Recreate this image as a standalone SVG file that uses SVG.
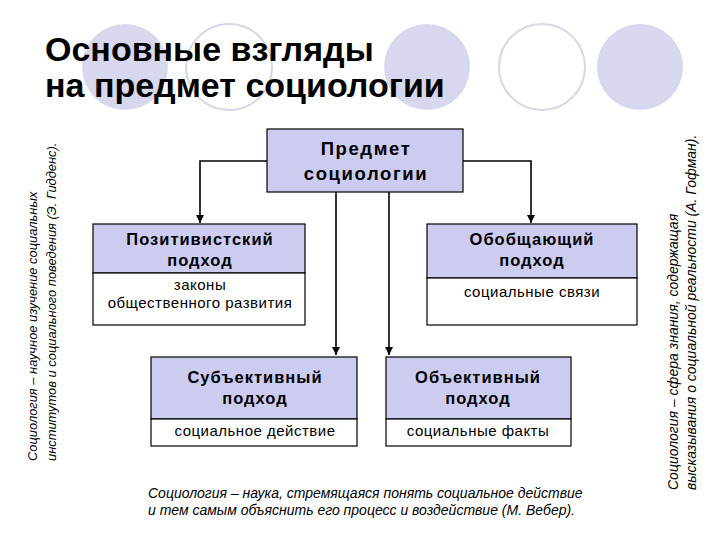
<svg xmlns="http://www.w3.org/2000/svg" width="720" height="540" viewBox="0 0 720 540">
  <style>
    .bgc { fill: #d7d7ee; }
    .bgo { fill: #ffffff; stroke: #d6d6e6; stroke-width: 2; }
    .title { font-family: "Liberation Sans", Arial, sans-serif; font-weight: bold; font-size: 34px; fill: #000; }
    .hdr { fill: #ccccf0; stroke: #000; stroke-width: 1.2; }
    .body { fill: #ffffff; stroke: #000; stroke-width: 1.2; }
    .ht { font-family: "Liberation Sans", Arial, sans-serif; font-weight: bold; font-size: 16.5px; letter-spacing: 1px; fill: #000; text-anchor: middle; }
    .tt { font-family: "Liberation Sans", Arial, sans-serif; font-weight: bold; font-size: 18.5px; letter-spacing: 1.6px; fill: #000; text-anchor: middle; }
    .bt { font-family: "Liberation Sans", Arial, sans-serif; font-size: 15px; letter-spacing: 0.5px; fill: #000; text-anchor: middle; }
    .note { font-family: "Liberation Sans", Arial, sans-serif; font-style: italic; fill: #000; }
    .conn { fill: none; stroke: #000; stroke-width: 1.6; }
  </style>
  <defs>
    <marker id="arr" viewBox="0 0 10 10" refX="10" refY="5" markerWidth="5" markerHeight="5" orient="auto" markerUnits="strokeWidth">
      <path d="M0,0 L10,5 L0,10 z" fill="#000"/>
    </marker>
  </defs>
  <rect width="720" height="540" fill="#ffffff"/>

  <g id="background">
    <circle class="bgc" cx="125" cy="67" r="43"/>
    <circle class="bgo" cx="229" cy="67" r="43"/>
    <circle class="bgc" cx="427" cy="67" r="43"/>
    <circle class="bgo" cx="542" cy="67" r="43"/>
    <circle class="bgc" cx="640" cy="67" r="43"/>
  </g>

  <g id="title">
    <text class="title" x="45" y="61">Основные взгляды</text>
    <text class="title" x="45" y="97">на предмет социологии</text>
  </g>

  <g id="connectors">
    <polyline class="conn" points="267,161 200,161 200,223" marker-end="url(#arr)"/>
    <polyline class="conn" points="463,161 531,161 531,223" marker-end="url(#arr)"/>
    <line class="conn" x1="336" y1="192" x2="336" y2="355" marker-end="url(#arr)"/>
    <line class="conn" x1="389" y1="192" x2="389" y2="355" marker-end="url(#arr)"/>
  </g>

  <g id="subject">
    <rect class="hdr" x="267" y="129" width="196" height="63"/>
    <text class="tt" x="366" y="155">Предмет</text>
    <text class="tt" x="366" y="180">социологии</text>
  </g>

  <g id="positivist">
    <rect class="hdr" x="93" y="224" width="212" height="49"/>
    <rect class="body" x="93" y="273" width="212" height="52"/>
    <text class="ht" x="200" y="245">Позитивистский</text>
    <text class="ht" x="200" y="266">подход</text>
    <text class="bt" x="200" y="290">законы</text>
    <text class="bt" x="200" y="308">общественного развития</text>
  </g>

  <g id="generalizing">
    <rect class="hdr" x="427" y="224" width="210" height="54"/>
    <rect class="body" x="427" y="278" width="210" height="47"/>
    <text class="ht" x="532" y="245">Обобщающий</text>
    <text class="ht" x="532" y="266">подход</text>
    <text class="bt" x="532" y="297">социальные связи</text>
  </g>

  <g id="subjective">
    <rect class="hdr" x="151" y="357" width="206" height="62"/>
    <rect class="body" x="151" y="419" width="206" height="27"/>
    <text class="ht" x="255" y="383">Субъективный</text>
    <text class="ht" x="255" y="404">подход</text>
    <text class="bt" x="255" y="436">социальное действие</text>
  </g>

  <g id="objective">
    <rect class="hdr" x="386" y="357" width="185" height="62"/>
    <rect class="body" x="386" y="419" width="185" height="27"/>
    <text class="ht" x="478" y="383">Объективный</text>
    <text class="ht" x="478" y="404">подход</text>
    <text class="bt" x="478" y="436">социальные факты</text>
  </g>

  <g id="note-weber" font-size="14px">
    <text class="note" x="148" y="498">Социология – наука, стремящаяся понять социальное действие</text>
    <text class="note" x="148" y="515">и тем самым объяснить его процесс и воздействие (М. Вебер).</text>
  </g>

  <g id="note-giddens" font-size="12.9px">
    <text class="note" transform="translate(37,461) rotate(-90)">Социология – научное изучение социальных</text>
    <text class="note" transform="translate(56,461) rotate(-90)">институтов и социального поведения (Э. Гидденс).</text>
  </g>

  <g id="note-goffman" font-size="14px">
    <text class="note" transform="translate(678,490) rotate(-90)">Социология – сфера знания, содержащая</text>
    <text class="note" transform="translate(696,490) rotate(-90)">высказывания о социальной реальности (А. Гофман).</text>
  </g>
</svg>
